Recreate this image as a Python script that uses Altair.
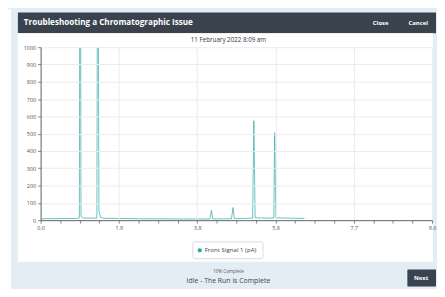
import altair as alt
import pandas as pd

# ---- data ----
times = [0.0, 0.90, 0.95, 0.97, 0.99, 1.05, 1.38, 1.40, 1.43, 1.47, 1.55, 2.5, 3.5,
         4.15, 4.19, 4.22, 4.68, 4.72, 4.75, 5.0, 5.20, 5.23, 5.26, 5.5, 5.72, 5.74,
         5.77, 6.0, 6.47]
signal = [8, 10, 14, 2600, 22, 12, 12, 2200, 55, 16, 11, 8, 7,
          7, 57, 7, 8, 73, 9, 10, 12, 575, 14, 12, 12, 505,
          14, 12, 10]
x_tick_values = [0.0, 0.48, 0.96, 1.44, 1.92, 2.4, 2.88, 3.36, 3.84, 4.32, 4.8, 5.28,
                 5.76, 6.24, 6.72, 7.2, 7.68, 8.16, 8.64, 9.12, 9.6]
y_tick_values = [0, 100, 200, 300, 400, 500, 600, 700, 800, 900, 1000]

header_title = "Troubleshooting a Chromatographic Issue"
close_label = "Close"
cancel_label = "Cancel"
date_title = "11 February 2022 8:09 am"
series_name = "Front Signal 1 (pA)"
progress_label = "10% Complete"
status_label = "Idle - The Run is Complete"
next_label = "Next"

FONT = "Open Sans"
TEAL = "#2aa6a6"

df = pd.DataFrame({"t": times, "v": signal})
one = pd.DataFrame({"k": [0]})


def box(x, x2, y, y2, fill, stroke=None, radius=0):
    kw = dict(fill=fill, cornerRadius=radius)
    if stroke:
        kw.update(stroke=stroke, strokeWidth=0.8)
    return alt.Chart(one).mark_rect(**kw).encode(
        x=alt.value(x), x2=alt.value(x2), y=alt.value(y), y2=alt.value(y2))


def label(txt, x, y, size, color, align="center", weight="normal"):
    return alt.Chart(pd.DataFrame({"s": [txt]})).mark_text(
        font=FONT, fontSize=size, color=color, align=align, baseline="middle",
        fontWeight=weight).encode(x=alt.value(x), y=alt.value(y), text="s:N")


major_test = "abs(datum.value/1.92 - round(datum.value/1.92)) < 0.01"

line = alt.Chart(df).mark_line(color=TEAL, strokeWidth=1, clip=True, opacity=0.7).encode(
    x=alt.X("t:Q", scale=alt.Scale(domain=[0, 9.6], nice=False, zero=False),
            axis=alt.Axis(values=x_tick_values, title=None, zindex=1,
                          labelExpr=f"({major_test}) ? format(datum.value, '.1f') : ''",
                          gridOpacity={"condition": {"test": major_test, "value": 1}, "value": 0},
                          labelFlush=False, labelOverlap=False)),
    y=alt.Y("v:Q", scale=alt.Scale(domain=[0, 1000], nice=False),
            axis=alt.Axis(values=y_tick_values, title=None, zindex=1, labelFlush=False,
                          labelOverlap=False, format="d")),
)

legend_dot = alt.Chart(one).mark_point(filled=True, shape="circle", size=18,
                                       color=TEAL, opacity=1).encode(
    x=alt.value(161), y=alt.value(205.5))

chart = alt.layer(
    box(-33, -30, -38, 250, "white"),
    box(-23, 400, -35, -14, "#3a434d"),
    box(-23, 397, -14, 217, "white"),
    box(154, 225, 197, 214, "white", stroke="#cfd4d8", radius=2),
    box(371, 400, 225, 242, "#38434f", radius=1),
    label(header_title, -17, -24, 8.2, "white", align="left", weight="bold"),
    label(close_label, 344, -24, 6.0, "white", weight="bold"),
    label(cancel_label, 382, -24, 6.0, "white", weight="bold"),
    label(date_title, 190, -7, 6.3, "#333333"),
    legend_dot,
    label(series_name, 166, 205.5, 6.2, "#444444", align="left"),
    label(progress_label, 190, 227, 4.6, "#555555"),
    label(status_label, 190, 237, 7.0, "#444444"),
    label(next_label, 385, 233.5, 6.0, "white", weight="bold"),
    line,
).properties(
    width=396, height=175,
    autosize=alt.AutoSizeParams(type="none"),
    padding={"left": 33, "top": 38, "right": 5, "bottom": 68},
    background="#e2edf5",
).configure_view(strokeWidth=0).configure_axis(
    domainColor="#666666", tickColor="#666666", gridColor="#ececec",
    labelColor="#555555", labelFont=FONT, labelFontSize=5.5, tickSize=3,
    labelPadding=2, domainWidth=1, tickWidth=0.8,
)

chart.save("out.html", embed_options={"renderer": "svg", "actions": False})
